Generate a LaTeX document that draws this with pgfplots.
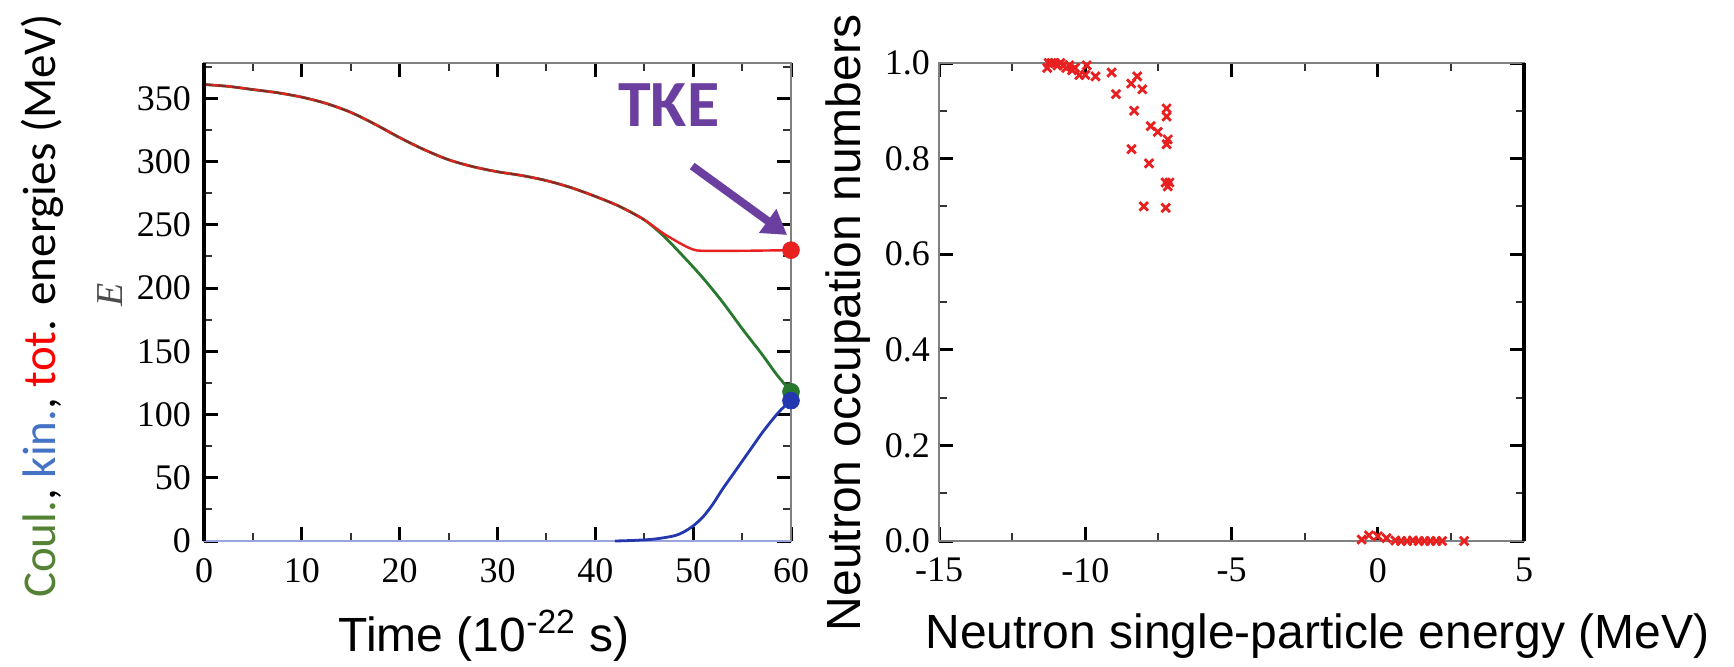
\documentclass[border=0pt]{standalone}
\usepackage{fontspec}
\setmainfont{Liberation Serif}
\setsansfont{Liberation Sans}
\newfontfamily\carlito{Carlito}
\usepackage{pgfplots}
\pgfplotsset{compat=1.18}
\usetikzlibrary{arrows.meta}
\definecolor{totred}{RGB}{232,32,32}
\definecolor{coulgreen}{RGB}{40,120,45}
\definecolor{kinblue}{RGB}{35,55,175}
\definecolor{lblgreen}{RGB}{84,130,53}
\definecolor{lblblue}{RGB}{68,114,196}
\definecolor{tkepurple}{RGB}{107,63,160}
\pgfplotsset{
  common/.style={
    scale only axis,
    anchor=south west,
    axis line style={black!50, line width=0.9pt},
    every major tick/.style={black, line width=1.5pt},
    every minor tick/.style={black!80, line width=1pt},
    major tick length=7pt,
    minor tick length=4pt,
    tick align=inside,
    xtick pos=both, ytick pos=both,
    /pgf/number format/assume math mode=true,
    tick label style={font=\fontsize{18}{20}\selectfont},
    clip=false,
  }
}
\begin{document}
\begin{tikzpicture}
\path[use as bounding box] (0,0) rectangle (867pt,333pt);
% ---------- left panel ----------
\begin{axis}[common,
  at={(102pt,62.5pt)}, width=293.5pt, height=239pt,
  xmin=0, xmax=60, ymin=0, ymax=378,
  xtick={0,10,...,60}, minor xtick={5,15,...,55},
  ytick={0,50,...,350}, minor ytick={25,75,...,375},
  xticklabel style={yshift=-5pt},
  yticklabel style={xshift=-3pt},
]
\addplot[color=kinblue!45, line width=1pt] coordinates {(0,0) (60,0)};
\addplot[color=coulgreen, line width=1.4pt, smooth] coordinates {
(0,361) (2.5,359.5) (5,357) (7.5,354.5) (10,351) (12.5,346) (15,339) (17.5,329.5)
(20,319) (22.5,309.5) (25,301.5) (27.5,296) (30,292) (32.5,289) (35,285) (37.5,279.5)
(40,272.5) (42.5,264.5) (45,254) (47,241) (49,225) (51,208) (53,189) (55,168)
(57,148) (58.5,132) (60,118)};
\addplot[color=totred, line width=1.2pt, smooth] coordinates {
(0,361) (2.5,359.5) (5,357) (7.5,354.5) (10,351) (12.5,346) (15,339) (17.5,329.5)
(20,319) (22.5,309.5) (25,301.5) (27.5,296) (30,292) (32.5,289) (35,285) (37.5,279.5)
(40,272.5) (42.5,264.5) (45,254) (47,243) (49,234) (50,230.5) (51,229.5) (55,229.5) (60,230)};
\addplot[color=black!80, line width=0.8pt, dash pattern=on 4pt off 3pt, smooth, opacity=0.6] coordinates {
(0,361) (2.5,359.5) (5,357) (7.5,354.5) (10,351) (12.5,346) (15,339) (17.5,329.5)
(20,319) (22.5,309.5) (25,301.5) (27.5,296) (30,292) (32.5,289) (35,285) (37.5,279.5)
(40,272.5) (42.5,264.5) (45,254)};
\addplot[color=kinblue, line width=1.4pt, smooth] coordinates {
(42,0) (44,0.5) (46,1.5) (48,4) (49,7) (50,12) (51,19) (52,29) (53,41) (54,52)
(55,63) (56,74) (57,85) (58,95) (59,104) (60,111)};
\addplot[only marks, mark=*, mark size=4.2pt, color=totred] coordinates {(60,230)};
\addplot[only marks, mark=*, mark size=4.2pt, color=coulgreen] coordinates {(60,118)};
\addplot[only marks, mark=*, mark size=4.2pt, color=kinblue] coordinates {(60,111)};
\draw[black, line width=1.6pt] (rel axis cs:0,0) -- (rel axis cs:0,1);
\node[font=\carlito\bfseries\fontsize{33}{36}\selectfont, text=tkepurple] at (axis cs:47.5,344.5) {TKE};
\draw[tkepurple, line width=4pt, -{Triangle[length=12pt,width=14pt]}] (axis cs:49.9,296.5) -- (axis cs:59.6,242);
\end{axis}
% ---------- right panel ----------
\begin{axis}[common,
  at={(469.5pt,62.5pt)}, width=292.5pt, height=239pt,
  xmin=-15, xmax=5, ymin=0, ymax=1,
  xtick={-15,-10,...,5}, minor xtick={-12.5,-7.5,-2.5,2.5},
  ytick={0,0.2,...,1.0}, minor ytick={0.1,0.3,0.5,0.7,0.9},
  xticklabel style={yshift=-5pt},
  yticklabel style={xshift=-1pt, /pgf/number format/.cd, fixed, fixed zerofill, precision=1},
]
\addplot[only marks, mark=x, mark size=3pt, mark options={line width=1.4pt}, color=totred] coordinates {
(-11.3,0.99) (-11.25,1.0) (-11.15,1.0) (-11.05,1.0) (-10.95,0.995) (-10.85,1.0) (-10.75,0.995)
(-10.65,0.99) (-10.55,0.995) (-10.45,0.985) (-10.35,0.99) (-10.2,0.975) (-9.95,0.995) (-10.0,0.975)
(-9.65,0.972) (-9.1,0.98) (-8.95,0.935) (-8.43,0.957) (-8.22,0.972) (-8.05,0.945) (-8.33,0.90)
(-8.42,0.82) (-7.76,0.868) (-7.52,0.856) (-7.22,0.905) (-7.22,0.888) (-7.18,0.84) (-7.22,0.83)
(-7.82,0.79) (-7.25,0.75) (-7.12,0.75) (-7.18,0.742) (-8.0,0.70) (-7.25,0.697)
(-0.55,0.003) (-0.3,0.012) (0.0,0.01) (0.3,0.006) (0.6,0.001) (0.8,0.0) (1.0,0.0) (1.2,0.001)
(1.4,0.0) (1.6,0.0) (1.8,0.0) (2.0,0.0) (2.2,0.0) (2.95,0.0)};
\draw[black, line width=1.6pt] (rel axis cs:1,0) -- (rel axis cs:1,1);
\end{axis}
% ---------- labels ----------
\node[rotate=90, font=\carlito\fontsize{23.5}{26}\selectfont] at (21pt,180pt)
  {{\color{lblgreen}Coul.}, {\color{lblblue}kin.}, {\color{red}tot}. energies (MeV)};
\node[rotate=90, font=\itshape\fontsize{19}{21}\selectfont, text=black!70] at (55pt,185.5pt) {E};
\node[font=\sffamily\fontsize{24}{28}\selectfont] at (242pt,15pt) {Time (10\textsuperscript{-22} s)};
\node[rotate=90, font=\sffamily\fontsize{24}{28}\selectfont] at (424pt,171.5pt) {Neutron occupation numbers};
\node[font=\sffamily\fontsize{24}{28}\selectfont] at (658.75pt,15pt) {Neutron single-particle energy (MeV)};
\end{tikzpicture}
\end{document}
